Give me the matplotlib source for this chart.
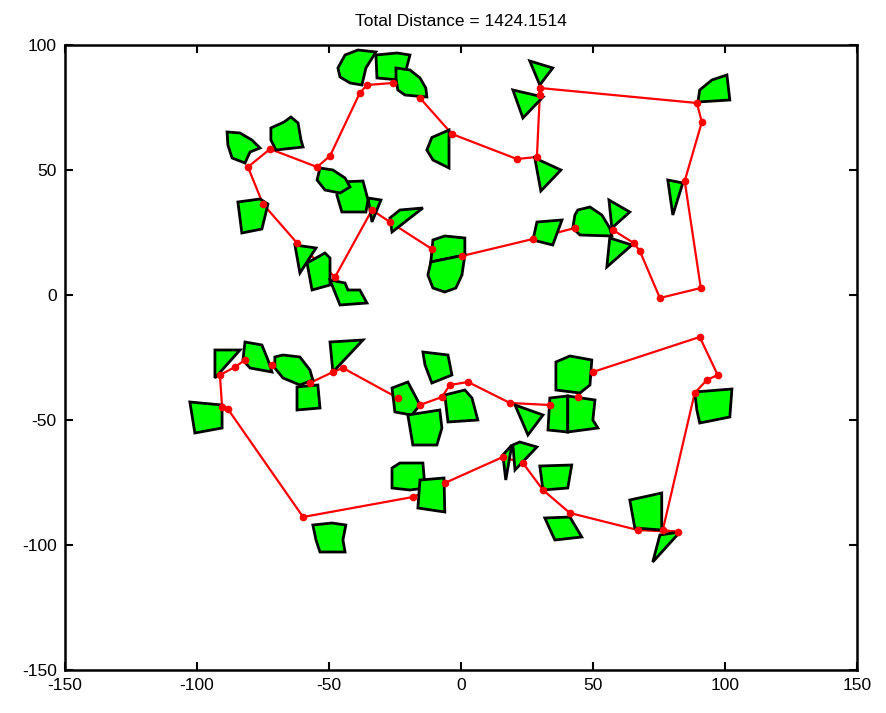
import matplotlib
matplotlib.use('Agg')
import matplotlib.pyplot as plt
from matplotlib.patches import Polygon

plt.rcParams['font.family'] = ['Liberation Sans', 'DejaVu Sans']
plt.rcParams['axes.unicode_minus'] = False

title_text = 'Total Distance = 1424.1514'

# tour through the upper group of regions (closed)
upper_x = [-80.7, -72.3, -54.5, -49.6, -38.3, -35.6, -25.8, -15.5, -3.4, 21.2, 28.8, 29.9, 29.9,
           89.4, 91.3, 84.8, 90.9, 75.4, 67.8, 65.5, 57.6, 43.2, 27.3, 0.4, -11.0, -26.9, -33.7,
           -47.7, -62.1, -75.0]
upper_y = [51.2, 58.4, 51.2, 55.6, 80.8, 84.0, 84.8, 78.8, 64.4, 54.4, 55.2, 80.0, 82.8,
           76.8, 69.2, 45.6, 2.8, -1.2, 17.6, 20.8, 26.0, 26.8, 22.4, 15.6, 18.4, 29.2, 34.0,
           7.2, 20.8, 36.4]

# tour through the lower group of regions (closed)
lower_x = [90.5, 97.3, 93.2, 88.6, 76.5, 82.2, 67.0, 41.3, 31.1, 23.5, 15.9, -6.1, -18.2,
           -59.8, -88.3, -90.5, -91.3, -85.6, -81.8, -71.6, -57.2, -48.5, -44.7, -23.9, -15.5,
           -7.2, -4.2, 2.7, 18.6, 33.7, 44.3, 50.0]
lower_y = [-16.8, -32.0, -34.0, -39.2, -94.0, -94.8, -94.0, -87.2, -78.0, -67.2, -64.8, -75.2,
           -80.8, -88.8, -45.6, -44.8, -32.0, -28.8, -26.0, -28.0, -35.2, -30.8, -29.2, -41.2,
           -44.0, -40.8, -36.0, -34.8, -43.2, -44.0, -40.8, -30.8]

# neighbourhood regions, vertices in data units
regions = [
    [(-46.6, 90.8), (-43.9, 96), (-39, 98), (-32.2, 97.2), (-36, 90.8), (-37.5, 84), (-42, 84.8), (-45.8, 87.2)],
    [(-32.2, 96), (-24.2, 96.8), (-19.3, 96), (-20.8, 90), (-23.1, 86), (-31.8, 86.8)],
    [(-24.6, 90.8), (-19.3, 90), (-15.5, 86.8), (-13.3, 82.8), (-12.9, 79.2), (-21.2, 80), (-23.9, 82), (-24.6, 86.8)],
    [(-11, 63), (-4.5, 66), (-4.5, 50.8), (-10.6, 54), (-12.9, 58)],
    [(19.7, 82), (31.1, 79.2), (23.5, 70.8)],
    [(26.1, 93.6), (34.8, 90.8), (29.9, 84)],
    [(28, 54.8), (37.9, 50), (30.3, 41.6)],
    [(90.5, 82), (95.1, 86), (100.8, 88), (101.9, 78), (89.8, 77.2)],
    [(78.4, 46), (84.1, 44.8), (80.3, 32)],
    [(56.1, 38), (64, 33.2), (57.2, 26.8)],
    [(44.3, 34), (48.9, 35.2), (53.4, 32), (56.4, 26.8), (57.2, 23.6), (45.1, 24), (42.4, 26.8), (43.2, 32)],
    [(56.4, 22.8), (64.8, 20), (55.3, 11.2)],
    [(28.8, 29.2), (38.3, 30), (34.8, 20), (27.3, 22)],
    [(-10.6, 22), (-6.1, 23.6), (1.5, 22.8), (1.5, 16), (-11.4, 13.2)],
    [(-11.4, 13.2), (1.5, 16), (0.4, 8), (-1.9, 2.8), (-6.1, 1.2), (-10.6, 2.8), (-12.5, 8)],
    [(-26.9, 30.8), (-23.1, 34), (-14.4, 34.8), (-26.1, 25.2)],
    [(-35.2, 38.8), (-30.3, 38), (-33.7, 29.2)],
    [(-45.8, 45.2), (-37.1, 45.6), (-35.2, 38), (-36, 33.2), (-45.1, 33.2), (-47, 40)],
    [(-53.4, 50.8), (-48.5, 50), (-43.9, 46.8), (-42, 43.2), (-45.8, 40.8), (-51.5, 42), (-54.5, 46)],
    [(-84.5, 37.2), (-76.1, 38.4), (-73.1, 36.4), (-75.4, 26.4), (-83, 24.8)],
    [(-62.9, 20), (-54.9, 18.8), (-61, 8.8)],
    [(-58.3, 12.8), (-51.5, 16.8), (-49.6, 14.8), (-49.6, 4), (-56.4, 2)],
    [(-49.6, 6), (-43.9, 4.8), (-42.8, 2), (-38.3, 2), (-35.6, -3.2), (-45.8, -4)],
    [(-88.6, 65.2), (-83.7, 64.8), (-79.2, 62), (-76.1, 58.8), (-79.9, 57.2), (-81.8, 52.8), (-86.7, 54.8), (-88.3, 60)],
    [(-72.0, 66.8), (-67.0, 69.2), (-64.4, 71.2), (-61.7, 68.8), (-60.6, 62), (-59.8, 59.2), (-70.1, 58), (-72.0, 62)],
    [(-93.2, -22), (-83.7, -22), (-93.2, -33.2)],
    [(-81.8, -18.8), (-75.4, -20), (-73.1, -26), (-71.6, -30.8), (-79.9, -29.2), (-82.6, -26)],
    [(-70.5, -24.8), (-67.4, -24), (-61, -24.8), (-57.2, -30), (-56.1, -34), (-61, -36), (-67.4, -33.2), (-70.5, -29.2)],
    [(-62.1, -36.8), (-54.2, -36), (-53.4, -45.2), (-62.1, -46)],
    [(-49.6, -18.8), (-37.1, -18), (-48.5, -30.8)],
    [(-102.7, -42.8), (-90.5, -44), (-90.5, -53.2), (-100.8, -55.2), (-101.9, -48)],
    [(-14.4, -22.8), (-4.9, -24), (-3.4, -32), (-11, -35.2), (-13.6, -28)],
    [(-26.1, -37.2), (-20.1, -34.8), (-15.5, -44), (-18.6, -48), (-25, -46.8)],
    [(-6.1, -40), (1.5, -38), (4.2, -41.2), (6.4, -50), (-4.9, -50.8)],
    [(-20.1, -48), (-8, -46), (-7.2, -53.2), (-9.1, -60), (-18.2, -60)],
    [(20.5, -44), (31.1, -48), (25.4, -56)],
    [(36, -26.8), (41.3, -24.4), (49.6, -26), (48.9, -36), (45.1, -39.2), (36, -38)],
    [(33.7, -41.2), (40.5, -40.4), (40.5, -54.8), (33, -54)],
    [(40.5, -40.4), (50.8, -42), (50, -50), (51.9, -53.2), (40.5, -54.8)],
    [(88.6, -38.8), (102.7, -37.6), (101.9, -48.8), (90.5, -51.2), (89.4, -46)],
    [(-26.1, -69.2), (-23.1, -67.2), (-14.4, -67.2), (-13.6, -77.2), (-19.3, -78), (-26.1, -77.2)],
    [(-15.5, -74), (-6.4, -73.2), (-6.1, -86.8), (-16.3, -85.2)],
    [(15.9, -64), (19.3, -60), (17, -74)],
    [(19.7, -60), (22.3, -58.8), (28.8, -60.8), (20.5, -70)],
    [(29.9, -68.4), (42, -68), (40.5, -77.2), (31.1, -78)],
    [(31.8, -89.2), (41.3, -88.8), (45.8, -96.8), (35.6, -98)],
    [(64, -82), (76.1, -79.2), (76.1, -94), (65.9, -93.2)],
    [(75.4, -96), (83, -94.8), (72.7, -106.8)],
    [(-56.1, -92), (-48.9, -91.2), (-43.6, -92), (-44.7, -98), (-43.9, -102.8), (-53.4, -102.8), (-54.9, -98)],
]

fig = plt.figure(figsize=(8.86, 7.13), dpi=100)
ax = fig.add_axes([0.0734, 0.0603, 0.8936, 0.8766])

for tx, ty in [(upper_x, upper_y), (lower_x, lower_y)]:
    ax.plot(tx + tx[:1], ty + ty[:1], color='red', lw=1.6, zorder=1)

for pts in regions:
    ax.add_patch(Polygon(pts, closed=True, facecolor=(0, 1, 0), edgecolor='black', lw=2.0, zorder=2))

for tx, ty in [(upper_x, upper_y), (lower_x, lower_y)]:
    ax.plot(tx, ty, 'o', color='red', ms=4.5, mec='red', zorder=3)

ax.set_xlim(-150, 150)
ax.set_ylim(-150, 100)
ax.set_xticks(range(-150, 151, 50))
ax.set_yticks(range(-150, 101, 50))
ax.tick_params(direction='in', top=True, right=True, labelsize=12.5, length=6, width=1.5, pad=6)
for s in ax.spines.values():
    s.set_linewidth(1.8)
ax.set_title(title_text, fontsize=12.5, pad=14)

fig.savefig('out.png', dpi=100)
